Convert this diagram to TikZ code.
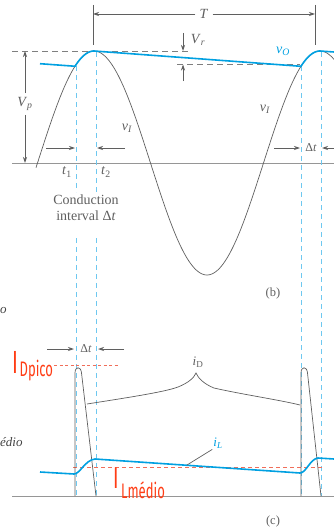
\documentclass[tikz,border=0pt]{standalone}
\usepackage{fontspec}
\usepackage{graphicx}
\setmainfont{Liberation Serif}
\newfontfamily\redfont{Fira Sans}
\usetikzlibrary{arrows.meta}
\definecolor{vblue}{RGB}{0,160,225}
\definecolor{dblue}{RGB}{110,200,240}
\definecolor{rlbl}{RGB}{255,60,20}
\definecolor{rdash}{RGB}{240,110,90}
\definecolor{cgray}{RGB}{95,95,95}
\definecolor{agray}{RGB}{150,150,150}
\definecolor{tgray}{RGB}{95,95,95}
\newcommand{\vr}[2]{\textit{#1}\textsubscript{\textit{#2}}}
\begin{document}
\begin{tikzpicture}[x=1pt,y=-1pt,
  curve/.style={cgray,line width=0.7pt},
  axisline/.style={agray,line width=1pt},
  outwave/.style={vblue,line width=1.6pt},
  vdash/.style={dblue,line width=1pt,dash pattern=on 5pt off 4pt},
  gdash/.style={cgray!80,line width=0.9pt,dash pattern=on 6pt off 4pt},
  dimline/.style={cgray,line width=0.7pt},
  arr/.style={-{Stealth[length=6pt,width=4pt]},cgray,line width=0.8pt},
  lbl/.style={tgray,font=\fontsize{14}{16}\selectfont,inner sep=1pt},
  smalllbl/.style={tgray,font=\fontsize{12}{14}\selectfont,inner sep=1pt},
  redlabel/.style={rlbl,inner sep=0pt}
]
\useasboundingbox (0,0) rectangle (334,527);

% ---------- part (b) ----------
\coordinate (axL) at (12,163);
\coordinate (axR) at (334,163);
\draw[axisline] (axL) -- (axR);

% dashed reference levels
\coordinate (pkL) at (12,51);
\coordinate (pkR) at (190,51);
\draw[gdash] (pkL) -- (pkR);
\coordinate (vrL) at (177,64.5);
\coordinate (vrR) at (300,64.5);
\draw[gdash] (vrL) -- (vrR);

% vertical dashed conduction lines
\coordinate (a1) at (76,66);  \coordinate (a2) at (76,192);
\coordinate (a3) at (76,238); \coordinate (a4) at (76,496);
\coordinate (b1) at (96,52);  \coordinate (b2) at (96,192);
\coordinate (b3) at (96,238); \coordinate (b4) at (96,496);
\coordinate (c1) at (301,66); \coordinate (c2) at (301,496);
\coordinate (d1) at (321,52); \coordinate (d2) at (321,496);
\draw[vdash] (a1) -- (a2) (a3) -- (a4);
\draw[vdash] (b1) -- (b2) (b3) -- (b4);
\draw[vdash] (c1) -- (c2);
\draw[vdash] (d1) -- (d2);

% input sine
\draw[curve] plot[domain=36:334,samples=200,variable=\x] (\x,{163-112*cos(1.59292*(\x-94))});

% output vO
\draw[outwave,line join=round] (40,63.7) -- (75,66.25)
  -- plot[domain=75:94,samples=20,variable=\x] (\x,{163-112*cos(1.59292*(\x-94))})
  -- (301,66.3)
  -- plot[domain=301:320,samples=20,variable=\x] (\x,{163-112*cos(1.59292*(\x-94))})
  -- (334,52);

% T dimension
\coordinate (tt1) at (93,5);  \coordinate (tb1) at (93,45);
\coordinate (tt2) at (315,5); \coordinate (tb2) at (315,45);
\draw[dimline] (tt1) -- (tb1) (tt2) -- (tb2);
\node[lbl,fill=white,inner xsep=4pt] (T) at (204,14) {\textit{T}};
\coordinate (Tl) at (93,14); \coordinate (Tr) at (315,14);
\draw[arr] (T.west) -- (Tl);
\draw[arr] (T.east) -- (Tr);

% Vr arrows
\coordinate (vr1) at (183,33); \coordinate (vr2) at (183,51);
\coordinate (vr3) at (183,81); \coordinate (vr4) at (183,64.5);
\draw[arr] (vr1) -- (vr2);
\draw[arr] (vr3) -- (vr4);
\node[lbl] (Vr) at (198,40) {\vr{V}{r}};

% Vp arrows
\node[lbl,fill=white,inner ysep=4pt] (Vp) at (25,104) {\vr{V}{p}};
\coordinate (vp1) at (25,51); \coordinate (vp2) at (25,163);
\draw[arr] (Vp.north) -- (vp1);
\draw[arr] (Vp.south) -- (vp2);

% t1 / t2 arrows
\coordinate (ta1) at (46,148); \coordinate (ta2) at (75,148);
\coordinate (ta3) at (125,148); \coordinate (ta4) at (97,148);
\draw[arr] (ta1) -- (ta2);
\draw[arr] (ta3) -- (ta4);
\node[lbl] (t1) at (67,172) {\textit{t}\textsubscript{1}};
\node[lbl] (t2) at (106,172) {\textit{t}\textsubscript{2}};

% right Delta t
\node[smalllbl] (dtR) at (311,148) {Δ\textit{t}};
\coordinate (ra1) at (274,148); \coordinate (ra2) at (300,148);
\coordinate (ra3) at (336,148); \coordinate (ra4) at (322,148);
\draw[arr] (ra1) -- (ra2);
\draw[arr] (ra3) -- (ra4);

% labels
\node[lbl] (vI1) at (127,128) {\vr{v}{I}};
\node[lbl] (vI2) at (265,109) {\vr{v}{I}};
\node[vblue,font=\fontsize{14}{16}\selectfont,inner sep=1pt] (vO) at (283,51) {\vr{v}{O}};
\node[tgray,font=\fontsize{14}{16}\selectfont,align=center,inner sep=0pt] (cond) at (86,208) {Conduction\\interval Δ\textit{t}};
\node[tgray,font=\fontsize{12.5}{14}\selectfont] (b) at (273,293) {(b)};

% left-edge fragments
\node[tgray!70!black,font=\fontsize{13}{14}\selectfont\itshape,anchor=west,inner sep=0pt] (frag1) at (0,310) {o};
\node[tgray!70!black,font=\fontsize{13}{14}\selectfont\itshape,anchor=west,inner sep=0pt] (frag2) at (0,442) {édio};

% ---------- part (c) ----------
\coordinate (bxL) at (12,496);
\coordinate (bxR) at (334,496);
\draw[axisline] (bxL) -- (bxR);

% Delta t at top
\node[smalllbl] (dtB) at (86,349) {Δ\textit{t}};
\coordinate (ba1) at (47,349); \coordinate (ba2) at (74,349);
\coordinate (ba3) at (124,349); \coordinate (ba4) at (98,349);
\draw[arr] (ba1) -- (ba2);
\draw[arr] (ba3) -- (ba4);

% red reference lines
\coordinate (rp1) at (54,365); \coordinate (rp2) at (118,365);
\draw[rdash,line width=0.8pt,dash pattern=on 3pt off 2.5pt] (rp1) -- (rp2);
\coordinate (rm1) at (73,467); \coordinate (rm2) at (322,467);
\draw[rdash,line width=1pt,dash pattern=on 4pt off 3pt] (rm1) -- (rm2);

% diode current pulses
\draw[curve,line join=round] (75,496) -- (75,373) .. controls (75,366) and (81,366) .. (81.5,373) -- (96,496);
\draw[curve,line join=round] (301,496) -- (301,373) .. controls (301,366) and (307,366) .. (307.5,373) -- (321,496);

% iD tail with brace
\draw[curve] (87,404) .. controls (125,398) and (165,392) .. (178,387)
  .. controls (188,383) and (194,378) .. (196,373)
  .. controls (198,378) and (204,384) .. (214,388)
  .. controls (240,394) and (280,400) .. (300,405);
\node[tgray,font=\fontsize{13}{14}\selectfont,inner sep=1pt] (iD) at (198,362) {\textit{i}\textsubscript{D}};

% load current iL
\draw[outwave,line join=round] (40,472) -- (74,474) .. controls (80,474) and (85,460) .. (95,459)
  -- (300,473) .. controls (306,473) and (310,459) .. (318,458) -- (334,459);
\node[vblue,font=\fontsize{13}{14}\selectfont,inner sep=1pt] (iL) at (218,443) {\vr{i}{L}};
\coordinate (iLp) at (187,465);
\draw[cgray,line width=0.7pt] (iL.south west) -- (iLp);

\node[tgray,font=\fontsize{12.5}{14}\selectfont] (c) at (273,521) {(c)};

% red labels
\node[redlabel,anchor=south west] (IDp) at (12,374) {\scalebox{0.62}[1]{\redfont\fontsize{32}{34}\selectfont I}};
\node[redlabel,anchor=south west] (IDps) at (19.5,381) {\scalebox{0.62}[1]{\redfont\fontsize{21}{23}\selectfont Dpico}};
\node[redlabel,anchor=south west] (ILm) at (113,489) {\scalebox{0.62}[1]{\redfont\fontsize{30}{32}\selectfont I}};
\node[redlabel,anchor=south west] (ILms) at (121,499) {\scalebox{0.62}[1]{\redfont\fontsize{21}{23}\selectfont Lmédio}};
\end{tikzpicture}
\end{document}
